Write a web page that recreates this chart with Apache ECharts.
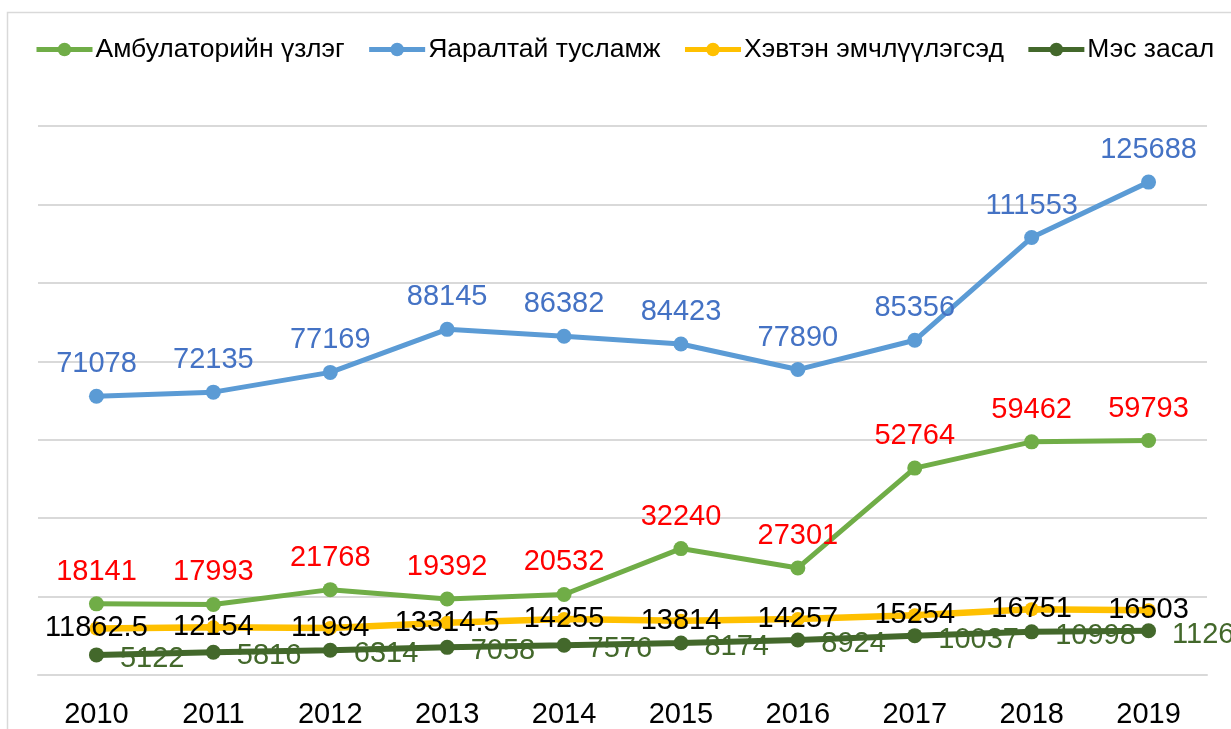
<!DOCTYPE html>
<html>
<head>
<meta charset="utf-8">
<script src="https://cdn.jsdelivr.net/npm/echarts@6/dist/echarts.min.js"></script>
<style>
html,body{margin:0;padding:0;background:#fff;overflow:hidden;}
#c{width:1231px;height:729px;}
</style>
</head>
<body>
<div id="c"></div>
<script>
const years = ['2010','2011','2012','2013','2014','2015','2016','2017','2018','2019'];
const ambulatory = [18141, 17993, 21768, 19392, 20532, 32240, 27301, 52764, 59462, 59793];
const emergency = [71078, 72135, 77169, 88145, 86382, 84423, 77890, 85356, 111553, 125688];
const inpatient = [11862.5, 12154, 11994, 13314.5, 14255, 13814, 14257, 15254, 16751, 16503];
const surgery = [5122, 5816, 6314, 7058, 7576, 8174, 8924, 10037, 10998, 11268];
const seriesNames = ['Амбулаторийн үзлэг', 'Яаралтай тусламж', 'Хэвтэн эмчлүүлэгсэд', 'Мэс засал'];

const FONT = '"Liberation Sans", Arial, sans-serif';
const chart = echarts.init(document.getElementById('c'), null, {renderer: 'canvas', width: 1231, height: 729});
const lblFont = 29;

chart.setOption({
  animation: false,
  backgroundColor: '#fff',
  textStyle: {fontFamily: FONT},
  graphic: [{
    type: 'rect', silent: true, z: -10,
    shape: {x: 7.5, y: 12.5, width: 1240, height: 740},
    style: {fill: 'none', stroke: '#D9D9D9', lineWidth: 1.5}
  }],
  legend: {
    left: 34, top: 36, width: 1197, padding: 0,
    itemWidth: 56, itemHeight: 17, itemGap: 22,
    lineStyle: {width: 5},
    textStyle: {fontSize: 26.5, color: '#000', fontFamily: FONT, padding: [0,0,0,-2]},
    data: seriesNames
  },
  grid: {left: 38, right: 24, top: 126, height: 554, containLabel: false},
  xAxis: {
    type: 'category', data: years, boundaryGap: true,
    axisLine: {show: true, lineStyle: {color: '#D9D9D9', width: 2}},
    axisTick: {show: false},
    axisLabel: {color: '#000', fontSize: lblFont, fontFamily: FONT, margin: 25}
  },
  yAxis: {
    type: 'value', min: 0, max: 140000, interval: 20000,
    axisLabel: {show: false}, axisLine: {show: false}, axisTick: {show: false},
    splitLine: {lineStyle: {color: '#D9D9D9', width: 2}}
  },
  series: [
    {
      name: seriesNames[0], type: 'line', data: ambulatory,
      symbol: 'circle', symbolSize: 15,
      itemStyle: {color: '#70AD47'}, lineStyle: {color: '#70AD47', width: 5},
      label: {show: true, position: 'top', distance: 10, color: '#FF0000', fontSize: lblFont, fontFamily: FONT}
    },
    {
      name: seriesNames[1], type: 'line', data: emergency,
      symbol: 'circle', symbolSize: 15,
      itemStyle: {color: '#5B9BD5'}, lineStyle: {color: '#5B9BD5', width: 5},
      label: {show: true, position: 'top', distance: 10, color: '#4472C4', fontSize: lblFont, fontFamily: FONT}
    },
    {
      name: seriesNames[2], type: 'line', data: inpatient,
      symbol: 'circle', symbolSize: 14,
      itemStyle: {color: '#FFC000'}, lineStyle: {color: '#FFC000', width: 6.5},
      label: {show: true, position: 'inside', color: '#000', fontSize: lblFont, fontFamily: FONT}
    },
    {
      name: seriesNames[3], type: 'line', data: surgery,
      symbol: 'circle', symbolSize: 15,
      itemStyle: {color: '#43682B'}, lineStyle: {color: '#43682B', width: 6},
      label: {show: true, position: 'right', distance: 16, offset: [0, 4], color: '#43682B', fontSize: lblFont, fontFamily: FONT}
    }
  ]
});
</script>
</body>
</html>
